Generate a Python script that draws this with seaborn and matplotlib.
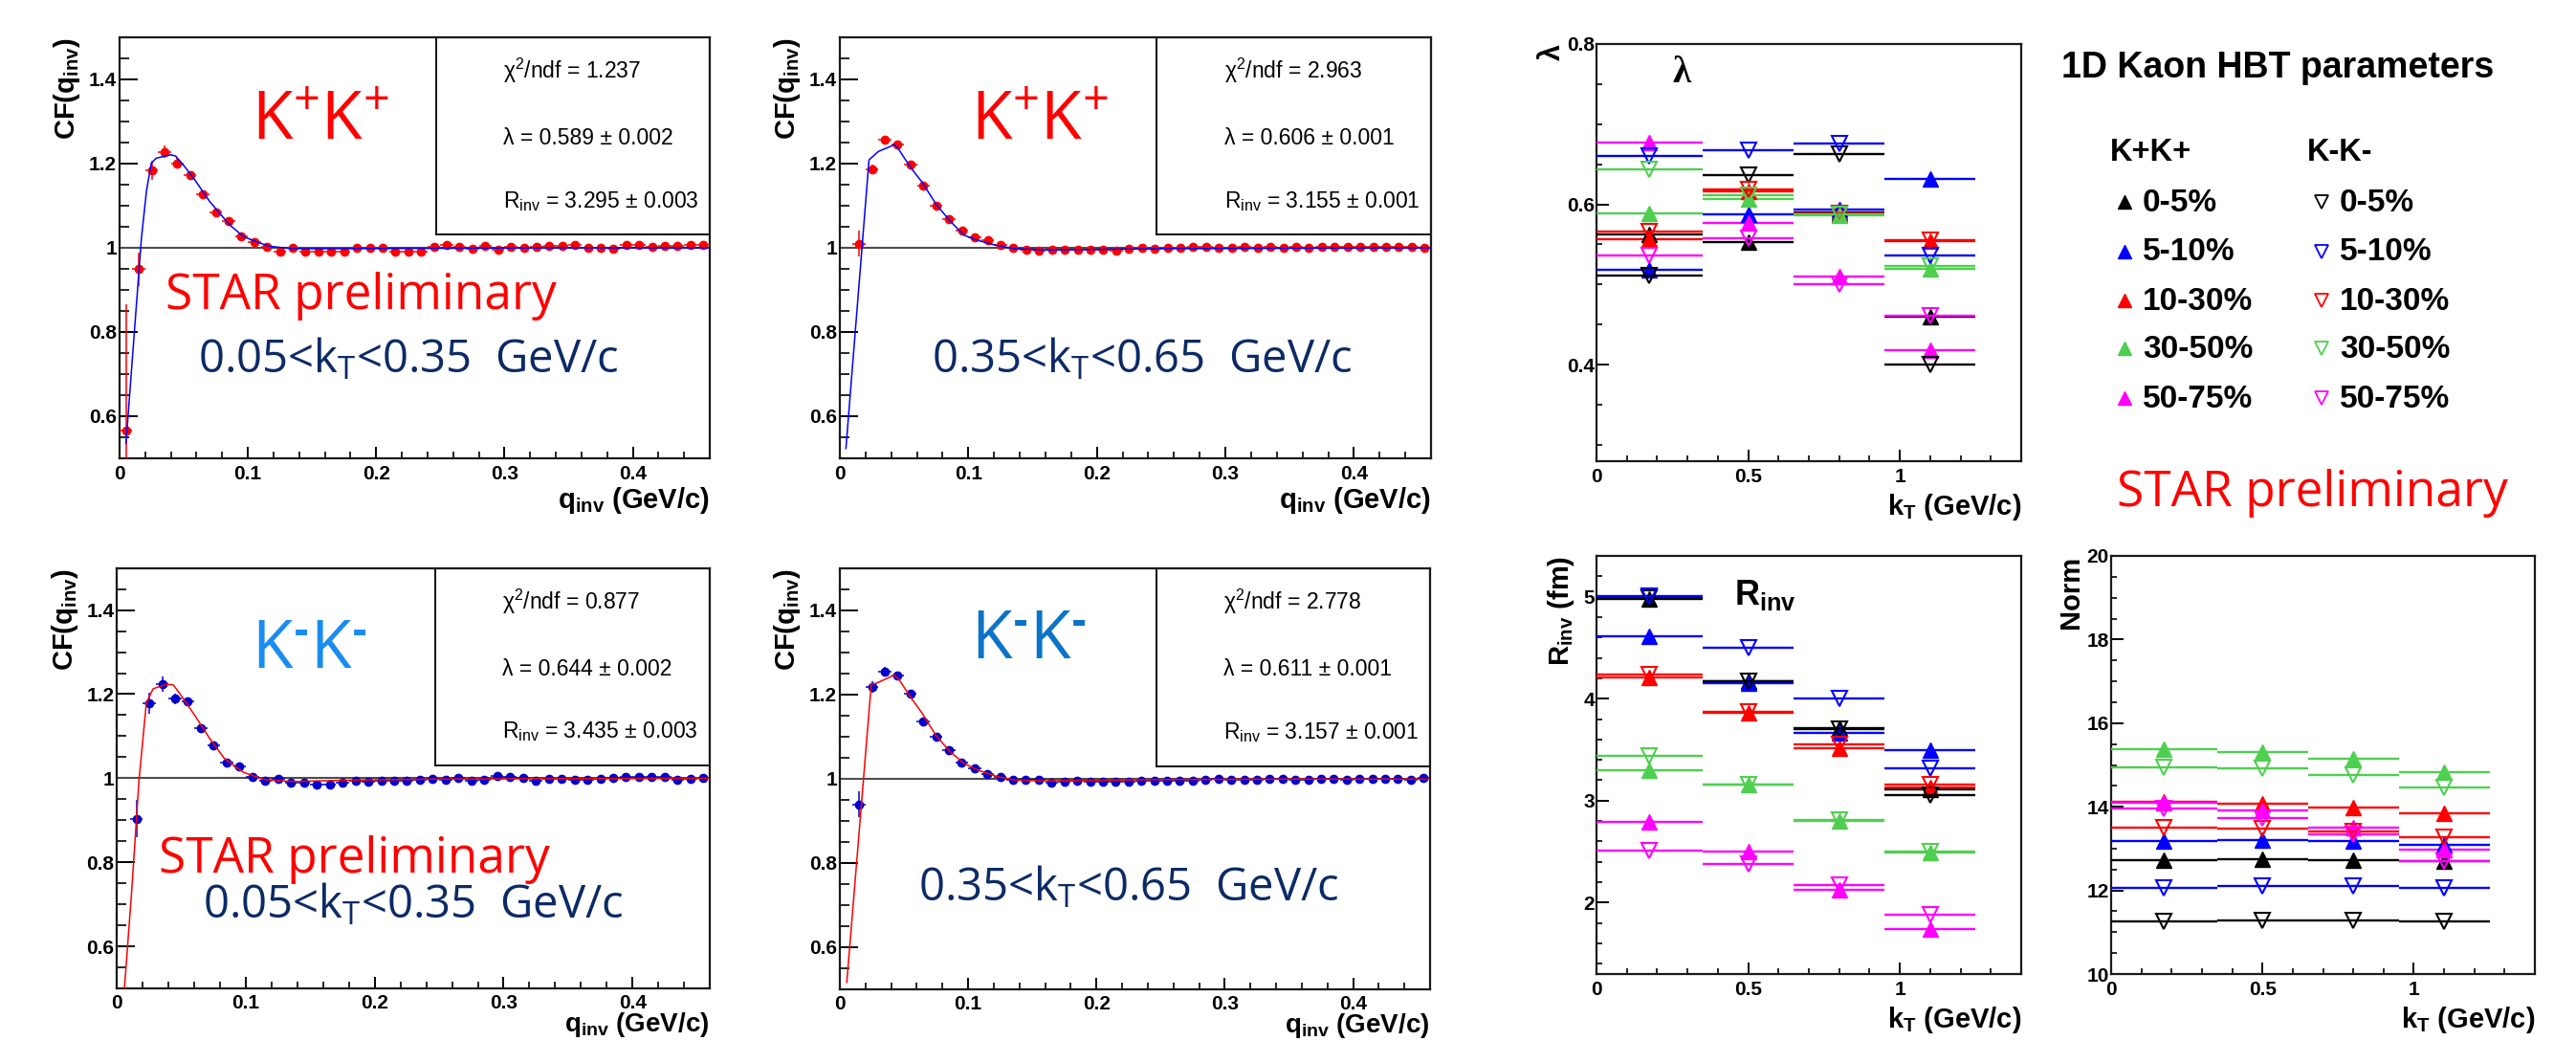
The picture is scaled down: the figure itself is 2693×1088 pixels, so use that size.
import numpy as np
import matplotlib
matplotlib.use("Agg")
import matplotlib.pyplot as plt
import seaborn as sns
from matplotlib.ticker import MultipleLocator, FuncFormatter
from matplotlib.patches import Rectangle

# ---------------- data ----------------
q_centers = np.round(np.arange(0.005, 0.46, 0.01), 3)
nan = np.nan

cf_kpkp_low = [0.564, 0.948, 1.183, 1.227, 1.200, 1.171, 1.127, 1.084, 1.063, 1.027,
               1.013, 1.002, 0.991, 1.000, 0.990, 0.989, 0.991, 0.990, 0.999, 0.998,
               0.998, 0.990, 0.991, 0.990, 1.002, 1.005, 1.002, 0.997, 1.003, 0.994,
               1.002, 0.999, 1.002, 1.004, 1.003, 1.005, 0.998, 0.998, 0.997, 1.005,
               1.006, 1.002, 1.003, 1.003, 1.005, 1.007]
cf_kpkp_high = [nan, 1.009, 1.185, 1.256, 1.245, 1.196, 1.147, 1.098, 1.067, 1.041,
                1.023, 1.017, 1.006, 1.000, 0.994, 0.993, 0.994, 0.994, 0.995, 0.994,
                0.994, 0.993, 0.996, 0.999, 0.996, 1.000, 0.998, 1.001, 1.001, 0.998,
                0.999, 1.001, 0.999, 1.001, 1.000, 1.002, 1.000, 1.002, 1.001, 1.001,
                1.002, 1.001, 1.002, 1.002, 1.002, 0.999]
cf_kmkm_low = [nan, 0.904, 1.178, 1.223, 1.189, 1.182, 1.120, 1.078, 1.037, 1.027,
               1.004, 0.993, 0.998, 0.989, 0.989, 0.985, 0.986, 0.990, 0.995, 0.992,
               0.995, 0.994, 0.995, 0.997, 0.998, 0.997, 1.001, 0.994, 0.996, 1.005,
               1.003, 1.001, 0.995, 0.998, 0.998, 0.997, 0.997, 0.999, 1.001, 1.002,
               1.002, 1.004, 1.004, 0.997, 0.999, 1.001]
cf_kmkm_high = [nan, 0.939, 1.218, 1.255, 1.246, 1.202, 1.135, 1.100, 1.067, 1.038,
                1.025, 1.011, 1.004, 0.997, 0.998, 0.998, 0.991, 0.992, 0.994, 0.992,
                0.993, 0.993, 0.992, 0.995, 0.995, 0.995, 0.995, 0.995, 0.998, 1.000,
                0.998, 0.997, 0.998, 1.000, 0.999, 0.997, 0.998, 1.000, 0.999, 0.998,
                0.999, 1.000, 0.999, 0.999, 0.998, 1.002]

err_kpkp_low = [0.30, 0.04, 0.022, 0.015, 0.012, 0.010, 0.008, 0.007, 0.006, 0.005]
err_kpkp_high = [0.0, 0.03, 0.012, 0.009, 0.008, 0.007, 0.006, 0.005]
err_kmkm_low = [0.0, 0.045, 0.025, 0.018, 0.012, 0.010, 0.008, 0.007, 0.006, 0.005]
err_kmkm_high = [0.0, 0.03, 0.014, 0.010, 0.008, 0.007, 0.006, 0.005]
ERR_TAIL = 0.004

fitq_kpkp_low = [0.005, 0.017, 0.021, 0.0247, 0.0285, 0.040, 0.0437, 0.051, 0.059, 0.070,
                 0.0856, 0.097, 0.116, 0.135, 0.17, 0.25, 0.35, 0.46]
fitv_kpkp_low = [0.534, 1.021, 1.135, 1.200, 1.212, 1.220, 1.217, 1.191, 1.159, 1.110,
                 1.054, 1.025, 1.003, 0.997, 0.997, 0.998, 0.999, 0.999]
fitq_kpkp_high = [0.0047, 0.0227, 0.030, 0.0425, 0.046, 0.055, 0.064, 0.075, 0.086, 0.0966,
                  0.107, 0.1216, 0.136, 0.161, 0.25, 0.35, 0.46]
fitv_kpkp_high = [0.522, 1.208, 1.228, 1.244, 1.232, 1.190, 1.155, 1.102, 1.062, 1.029,
                  1.017, 1.005, 0.997, 0.994, 0.997, 0.998, 0.999]
fitq_kmkm_low = [0.0046, 0.0114, 0.017, 0.0227, 0.028, 0.038, 0.0436, 0.049, 0.0606, 0.072,
                 0.083, 0.098, 0.114, 0.136, 0.174, 0.25, 0.35, 0.46]
fitv_kmkm_low = [0.455, 0.734, 0.995, 1.179, 1.213, 1.223, 1.222, 1.200, 1.148, 1.094,
                 1.048, 1.014, 0.997, 0.992, 0.995, 0.998, 0.999, 1.000]
fitq_kmkm_high = [0.0054, 0.0245, 0.028, 0.0424, 0.046, 0.055, 0.064, 0.075, 0.086, 0.0964,
                  0.107, 0.1216, 0.136, 0.161, 0.25, 0.35, 0.46]
fitv_kmkm_high = [0.516, 1.225, 1.226, 1.246, 1.236, 1.194, 1.156, 1.102, 1.064, 1.037,
                  1.021, 1.006, 0.997, 0.995, 0.998, 0.999, 0.999]

stats_kpkp_low = ["1.237", "0.589 \u00b1 0.002", "3.295 \u00b1 0.003"]
stats_kpkp_high = ["2.963", "0.606 \u00b1 0.001", "3.155 \u00b1 0.001"]
stats_kmkm_low = ["0.877", "0.644 \u00b1 0.002", "3.435 \u00b1 0.003"]
stats_kmkm_high = ["2.778", "0.611 \u00b1 0.001", "3.157 \u00b1 0.001"]

# kT dependence of fit parameters
kt_centers = [0.175, 0.5, 0.8, 1.1]
kt_lo = [0.0, 0.35, 0.65, 0.95]
kt_hi = [0.35, 0.65, 0.95, 1.25]
centralities = ["0-5%", "5-10%", "10-30%", "30-50%", "50-75%"]
cent_colors = ["#000000", "#0000ff", "#ff0000", "#4fcf4f", "#ff00ff"]

lambda_kpkp = [[0.563, 0.553, 0.590, 0.460],
               [0.518, 0.587, 0.593, 0.631],
               [0.557, 0.616, 0.587, 0.554],
               [0.589, 0.606, 0.586, 0.520],
               [0.677, 0.577, 0.510, 0.418]]
lambda_kmkm = [[0.511, 0.636, 0.662, 0.400],
               [0.660, 0.667, 0.676, 0.536],
               [0.566, 0.618, 0.589, 0.555],
               [0.644, 0.611, 0.588, 0.523],
               [0.536, 0.558, 0.501, 0.461]]
rinv_kpkp = [[4.98, 4.17, 3.71, 3.11],
             [4.61, 4.15, 3.66, 3.50],
             [4.21, 3.86, 3.51, 3.13],
             [3.30, 3.16, 2.80, 2.49],
             [2.79, 2.50, 2.13, 1.74]]
rinv_kmkm = [[4.99, 4.17, 3.70, 3.05],
             [5.01, 4.50, 4.00, 3.32],
             [4.24, 3.87, 3.55, 3.16],
             [3.44, 3.16, 2.81, 2.50],
             [2.51, 2.38, 2.17, 1.88]]
norm_kpkp = [[12.73, 12.75, 12.73, 12.71],
             [13.17, 13.20, 13.17, 13.10],
             [14.12, 14.07, 13.99, 13.85],
             [15.37, 15.32, 15.15, 14.83],
             [14.10, 13.91, 13.51, 12.97]]
norm_kmkm = [[11.26, 11.28, 11.28, 11.26],
             [12.06, 12.10, 12.11, 12.06],
             [13.49, 13.47, 13.41, 13.27],
             [14.95, 14.92, 14.75, 14.46],
             [13.97, 13.73, 13.33, 12.70]]

# ---------------- style ----------------
sns.set_theme(style="white")
plt.rcParams.update({
    "font.family": ["Liberation Sans", "DejaVu Sans"],
    "font.weight": "bold",
    "axes.labelweight": "bold",
    "mathtext.default": "regular",
    "axes.unicode_minus": False,
    "text.color": "black",
    "axes.labelcolor": "black",
    "xtick.color": "black",
    "ytick.color": "black",
})
NARROW = ["Liberation Sans Narrow", "Liberation Sans", "DejaVu Sans"]
HUMAN = ["Open Sans", "Noto Sans", "DejaVu Sans"]
RED = "#ff0000"
NAVY = "#0c2a66"

W, H = 2693, 1088
fig = plt.figure(figsize=(W / 100, H / 100), dpi=100)
fig.patch.set_facecolor("white")


def rect(l, t, r, b):
    return [l / W, 1 - b / H, (r - l) / W, (b - t) / H]


fmt = FuncFormatter(lambda v, p: f"{v:g}")


def style_axes(ax, xmaj, xmin, ymaj, ymin, ylen, yminlen, xlen, xminlen, ypad=2, xpad=5):
    for sp in ax.spines.values():
        sp.set_visible(True)
        sp.set_linewidth(1.6)
        sp.set_color("#1a1a1a")
    ax.xaxis.set_major_locator(MultipleLocator(xmaj))
    ax.xaxis.set_minor_locator(MultipleLocator(xmin))
    ax.yaxis.set_major_locator(MultipleLocator(ymaj))
    ax.yaxis.set_minor_locator(MultipleLocator(ymin))
    ax.xaxis.set_major_formatter(fmt)
    ax.yaxis.set_major_formatter(fmt)
    ax.tick_params(axis="x", which="major", direction="in", length=xlen, width=1.4,
                   bottom=True, top=False, labelsize=15, pad=xpad)
    ax.tick_params(axis="x", which="minor", direction="in", length=xminlen, width=1.2,
                   bottom=True, top=False)
    ax.tick_params(axis="y", which="major", direction="in", length=ylen, width=1.4,
                   left=True, right=False, labelsize=15, pad=ypad)
    ax.tick_params(axis="y", which="minor", direction="in", length=yminlen, width=1.2,
                   left=True, right=False)
    ax.grid(False)
    ax.set_facecolor("white")


def cf_panel(r, vals, err_head, fit_q, fit_v, pt_col, fit_col, stats,
             species, sp_col, sp_pos, kt_txt, kt_pos, star_pos=None, bottom_row=False):
    ax = fig.add_axes(r)
    ax.axhline(1.0, color="#4d4d4d", lw=1.5, zorder=1)
    sns.lineplot(x=fit_q, y=fit_v, ax=ax, color=fit_col, lw=1.1, estimator=None,
                 sort=False, legend=False, zorder=4)
    v = np.array(vals, float)
    e = np.array(err_head + [ERR_TAIL] * (len(v) - len(err_head)))
    ax.errorbar(q_centers, v, xerr=0.005, yerr=e, fmt="o", ms=6, color=pt_col,
                mec=pt_col, elinewidth=1.1, capsize=0, zorder=3)
    ax.set_xlim(0, 0.46)
    ax.set_ylim(0.5, 1.5)
    style_axes(ax, 0.1, 0.02, 0.2, 0.05, 13.5, 7, 9, 5, xpad=4 if bottom_row else 5)
    ax.set_xlabel("q$_{inv}$ (GeV/c)", loc="right", fontsize=20 if bottom_row else 21,
                  labelpad=-1 if bottom_row else 2)
    ax.set_ylabel("CF(q$_{inv}$)", loc="top", fontsize=21, labelpad=5)
    ax.add_patch(Rectangle((0.536, 0.53), 0.464, 0.47, transform=ax.transAxes,
                           fill=False, lw=1.5, ec="#1a1a1a", zorder=5))
    lines = ["\u03c7$^{2}$/ndf = " + stats[0], "\u03bb = " + stats[1],
             "R$_{inv}$ = " + stats[2]]
    for txt, yy in zip(lines, [0.919, 0.76, 0.61]):
        ax.text(0.65, yy, txt, transform=ax.transAxes, fontsize=16.5,
                fontweight="normal", family=NARROW, va="center", ha="left")
    ax.text(sp_pos[0], sp_pos[1], species, transform=ax.transAxes, color=sp_col,
            fontsize=50, fontweight="normal", family=HUMAN, va="baseline")
    ax.text(kt_pos[0], kt_pos[1], kt_txt, transform=ax.transAxes, color=NAVY,
            fontsize=34, fontweight="normal", family=HUMAN, va="baseline")
    if star_pos is not None:
        ax.text(star_pos[0], star_pos[1], "STAR preliminary", transform=ax.transAxes,
                color=RED, fontsize=37, fontweight="normal", family=HUMAN, va="baseline")
    return ax


cf_panel(rect(125, 38.6, 742, 478.6), cf_kpkp_low, err_kpkp_low, fitq_kpkp_low,
         fitv_kpkp_low, "#ff0000", "#0000ff", stats_kpkp_low,
         "K$^{+}$K$^{+}$", RED, (0.224, 0.756),
         "0.05<k$_{T}$<0.35  GeV/c", (0.133, 0.204), star_pos=(0.078, 0.354))
cf_panel(rect(878, 38.6, 1496, 478.6), cf_kpkp_high, err_kpkp_high, fitq_kpkp_high,
         fitv_kpkp_high, "#ff0000", "#0000ff", stats_kpkp_high,
         "K$^{+}$K$^{+}$", RED, (0.222, 0.756),
         "0.35<k$_{T}$<0.65  GeV/c", (0.155, 0.204))
cf_panel(rect(122.4, 593.7, 742, 1033), cf_kmkm_low, err_kmkm_low, fitq_kmkm_low,
         fitv_kmkm_low, "#0000cc", "#ff0000", stats_kmkm_low,
         "K$^{\u2010}$K$^{\u2010}$", "#1a8cf0", (0.227, 0.763),
         "0.05<k$_{T}$<0.35  GeV/c", (0.145, 0.168), star_pos=(0.070, 0.276),
         bottom_row=True)
cf_panel(rect(878, 593.7, 1495, 1034), cf_kmkm_high, err_kmkm_high, fitq_kmkm_high,
         fitv_kmkm_high, "#0000cc", "#ff0000", stats_kmkm_high,
         "K$^{\u2010}$K$^{\u2010}$", "#0b74c8", (0.222, 0.786),
         "0.35<k$_{T}$<0.65  GeV/c", (0.133, 0.211), bottom_row=True)


def param_panel(r, pp, mm, ylim, ymaj, ymin, ylabel, ylabelsize, labelpad):
    ax = fig.add_axes(r)
    xc = np.array(kt_centers)
    xe = [xc - np.array(kt_lo), np.array(kt_hi) - xc]
    for col, v in zip(cent_colors, pp):
        ax.errorbar(xc, v, xerr=xe, fmt="^", ms=11, color=col, mec=col,
                    elinewidth=1.7, capsize=0, zorder=3)
    for col, v in zip(cent_colors, mm):
        ax.errorbar(xc, v, xerr=xe, fmt="v", ms=11, color=col, mec=col, mfc="none",
                    mew=1.5, elinewidth=1.7, capsize=0, zorder=4)
    ax.set_xlim(0, 1.4)
    ax.set_ylim(*ylim)
    style_axes(ax, 0.5, 0.1, ymaj, ymin, 9.4, 4.5, 9, 4.5, ypad=1.5)
    ax.set_xlabel("k$_{T}$ (GeV/c)", loc="right", fontsize=21, labelpad=4)
    ax.set_ylabel(ylabel, loc="top", fontsize=ylabelsize, labelpad=labelpad)
    return ax


axl = param_panel(rect(1669, 45.7, 2113, 482), lambda_kpkp, lambda_kmkm,
                  (0.28, 0.8), 0.2, 0.05, "\u03bb", 22, 0)
axl.text(0.251, 0.7515, "\u03bb", fontsize=28, family=["Liberation Serif", "DejaVu Serif"],
         fontweight="bold", va="baseline")
axr = param_panel(rect(1669, 581, 2113, 1018), rinv_kpkp, rinv_kmkm,
                  (1.3, 5.4), 1, 0.2, "R$_{inv}$ (fm)", 21, 5)
axr.text(0.455, 4.92, "R$_{inv}$", fontsize=26, fontweight="bold", va="baseline")
axn = param_panel(rect(2207, 581, 2650, 1018), norm_kpkp, norm_kmkm,
                  (10, 20), 2, 0.5, "Norm", 21, 2)

# ---------------- legend block (figure pixel coordinates) ----------------
lax = fig.add_axes([0, 0, 1, 1])
lax.set_xlim(0, W)
lax.set_ylim(H, 0)
lax.set_axis_off()
lax.patch.set_alpha(0)

lax.text(2155, 81, "1D Kaon HBT parameters", fontsize=27, fontweight="bold", va="baseline")
lax.text(2206, 168, "K+K+", fontsize=23.5, fontweight="bold", va="baseline")
lax.text(2412, 168, "K-K-", fontsize=23.5, fontweight="bold", va="baseline")
row_base = [221, 272.5, 324, 374, 425.7]
for lab, col, yb in zip(centralities, cent_colors, row_base):
    lax.plot([2221], [yb - 10], marker="^", ms=10, color=col, ls="none")
    lax.plot([2427], [yb - 10], marker="v", ms=10, mec=col, mfc="none", mew=1.3, ls="none")
    lax.text(2240, yb, lab, fontsize=24, fontweight="bold", va="baseline")
    lax.text(2446, yb, lab, fontsize=24, fontweight="bold", va="baseline")

lax.text(2213, 528.6, "STAR preliminary", color=RED, fontsize=37, fontweight="normal",
         family=HUMAN, va="baseline")

fig.savefig("out.png", dpi=100, facecolor="white")
